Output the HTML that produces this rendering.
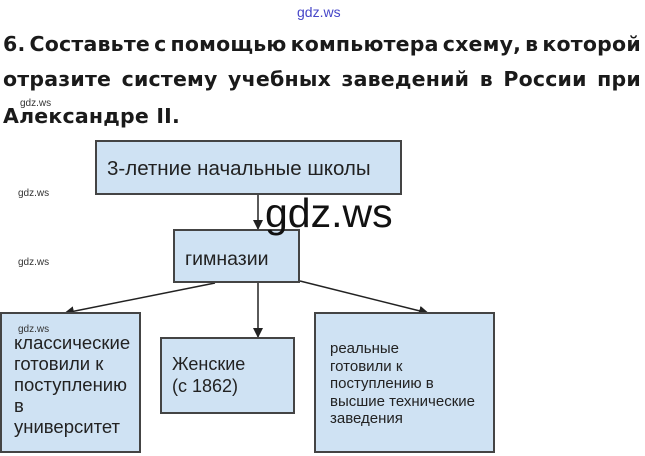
<!DOCTYPE html>
<html><head><meta charset="utf-8"><style>
body{margin:0;width:645px;height:456px;background:#fff;position:relative;overflow:hidden;font-family:"Liberation Sans","DejaVu Sans",sans-serif}
.t{position:absolute;left:3px;width:638px;font-weight:bold;font-size:20.5px;color:#1a1a1a;white-space:nowrap;font-family:"DejaVu Sans","Liberation Sans",sans-serif;letter-spacing:0.2px}
.b{position:absolute;background:#cfe2f3;border:2px solid #444;box-sizing:border-box;color:#222}
.s{position:absolute;font-size:10px;color:#333}
</style></head><body>
<div class="s" style="left:297px;top:4px;font-size:14px;color:#4646c8">gdz.ws</div>
<div class="t" style="top:32px;display:flex;justify-content:space-between"><span>6.</span><span>Составьте</span><span>с</span><span>помощью</span><span>компьютера</span><span>схему,</span><span>в</span><span>которой</span></div>
<div class="t" style="top:67px;display:flex;justify-content:space-between"><span>отразите</span><span>систему</span><span>учебных</span><span>заведений</span><span>в</span><span>России</span><span>при</span></div>
<div class="t" style="top:104px">Александре II.</div>
<div class="s" style="left:20px;top:98px">gdz.ws</div>
<div class="s" style="left:18px;top:188px">gdz.ws</div>
<div class="s" style="left:18px;top:257px">gdz.ws</div>
<svg style="position:absolute;left:0;top:0" width="645" height="456">
<defs><marker id="a" markerWidth="10" markerHeight="10" refX="9" refY="5" orient="auto" markerUnits="userSpaceOnUse"><path d="M0,0 L10,5 L0,10z" fill="#222"/></marker></defs>
<g stroke="#222" stroke-width="1.5" fill="none">
<line x1="258" y1="195" x2="258" y2="229" marker-end="url(#a)"/>
<line x1="215" y1="283" x2="65" y2="313" marker-end="url(#a)"/>
<line x1="258" y1="283" x2="258" y2="337" marker-end="url(#a)"/>
<line x1="300" y1="281" x2="428" y2="313" marker-end="url(#a)"/>
</g></svg>
<div class="b" style="left:95px;top:140px;width:307px;height:55px;font-size:20.5px;padding:15px 0 0 10px">3-летние начальные школы</div>
<div class="b" style="left:173px;top:229px;width:127px;height:54px;font-size:19.5px;padding:17px 0 0 10px">гимназии</div>
<div class="b" style="left:0;top:312px;width:141px;height:141px;font-size:18.5px;line-height:21px;padding:18px 0 0 12px;white-space:nowrap">классические<br>готовили к<br>поступлению<br>в<br>университет</div>
<div class="s" style="left:18px;top:324px">gdz.ws</div>
<div class="b" style="left:160px;top:337px;width:135px;height:77px;font-size:18px;line-height:21.5px;padding:15px 0 0 10px">Женские<br>(с 1862)</div>
<div class="b" style="left:314px;top:312px;width:181px;height:141px;font-size:15px;line-height:17.5px;padding:26px 0 0 14px">реальные<br>готовили к<br>поступлению в<br>высшие технические<br>заведения</div>
<div style="position:absolute;left:265px;top:190px;font-size:41px;color:#111;font-family:'Liberation Sans',sans-serif">gdz.ws</div>
</body></html>
